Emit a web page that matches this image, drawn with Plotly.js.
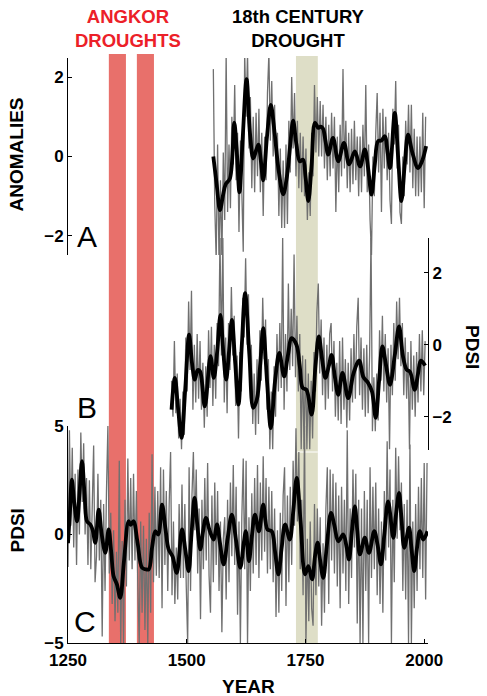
<!DOCTYPE html>
<html><head><meta charset="utf-8">
<script src="https://cdn.plot.ly/plotly-3.0.1.min.js"></script>
<style>html,body{margin:0;padding:0;background:#fff}#chart{width:487px;height:696px}</style>
</head><body><div id="chart"></div>
<script>
// ---------- DATA ----------
const xTicks = [1250, 1500, 1750, 2000];
const droughtAngkor = [[1336, 1372], [1395, 1431]];
const drought18th = [1730, 1776];

// Panel A: anomalies (annual, every 3rd year shown) + smoothed
const grayA_start = 1556;
const grayA = [
 2.2,-1.2,-2.6,0.3,-2.7,-0.6,-2.6,0.1,-1.6,2.6,
 -1.4,0.3,-1.3,1.0,-0.2,1.8,-0.6,0.6,-1.9,0.4,
 -0.9,-2.4,2.6,1.0,2.6,0.2,1.5,-0.8,1.0,-0.9,
 1.1,-0.5,1.2,-0.9,0.6,-1.5,0.5,-0.6,1.6,2.6,
 0.4,1.9,0.0,1.3,-0.6,0.6,-1.5,0.2,-1.8,-0.1,
 -1.8,0.3,-1.7,0.9,-0.4,2.0,0.2,1.6,-0.5,0.9,
 -0.8,0.6,-0.9,0.5,-1.0,0.2,-1.6,-0.4,-1.5,0.6,
 -0.5,1.8,0.1,1.5,0.0,1.4,0.0,1.3,-0.3,1.0,
 -0.6,0.8,-0.5,1.1,-0.3,1.0,-1.4,0.5,-0.9,0.8,
 -0.5,2.2,-0.3,0.9,-0.8,0.6,-0.9,0.7,-0.7,0.9,
 -0.6,0.5,-1.0,0.5,-0.9,0.8,-0.5,1.8,-0.9,0.3,
 -1.6,-2.5,0.0,-1.0,0.6,1.6,-0.4,1.1,-1.4,1.2,
 -0.3,1.0,-0.6,0.6,-1.1,-1.7,1.2,0.3,1.9,-0.3,
 0.8,-1.4,-1.7,0.0,-1.0,0.9,-0.2,1.3,-0.4,1.3,
 -0.8,0.7,-1.0,0.5,-1.0,0.5,-0.9,1.1,-1.3,1.0
];
const smoothA_years = [1556,1563,1570,1576,1582,1591,1600,1605,1611,1618,1626,1633,1640,1646,1651,1656,1661,1669,1677,1685,1693,1703,1711,1718,1724,1731,1738,1745,1750,1756,1763,1770,1777,1782,1787,1792,1798,1808,1819,1831,1842,1854,1865,1875,1882,1889,1896,1903,1910,1917,1923,1928,1938,1945,1952,1959,1966,1975,1987,1996,2004];
const smoothA = [0.0,-0.7,-1.35,-1.0,-0.7,-0.55,0.85,0.2,-0.9,0.5,1.95,0.6,-0.05,0.15,0.3,-0.1,-0.6,0.5,1.3,0.6,-0.3,-0.95,-0.5,0.3,0.9,0.3,-0.12,-0.08,-0.5,-1.12,-0.2,0.85,0.72,0.75,0.7,0.4,0.05,0.47,-0.12,0.34,-0.2,0.13,-0.25,0.18,-0.3,-0.96,-0.2,0.39,0.4,0.51,0.1,-0.29,1.1,0.0,-1.12,-0.2,0.55,0.1,-0.29,-0.1,0.26];

// Panel B: PDSI (right axis)
const grayB_start = 1468;
const grayB = [
 -1.0,-2.0,0.1,-1.9,-0.8,-2.6,-1.5,-2.9,-1.3,-2.5,
 0.2,-1.3,1.2,-0.7,1.5,-1.8,0.0,-1.6,0.3,-1.5,
 0.1,-1.8,-0.5,-2.3,-0.6,-2.0,0.4,-1.2,0.5,-1.7,
 0.0,-1.5,0.6,-0.6,3.0,-0.3,3.0,-1.6,0.2,-1.9,
 0.6,-0.7,1.6,-0.3,0.8,-1.7,-0.3,-2.6,-0.2,-1.3,
 1.3,0.2,2.4,0.0,1.4,-1.2,0.0,-2.2,-0.8,-2.5,
 -0.4,-2.2,0.4,-1.0,1.3,-0.4,0.7,-1.8,-0.4,-2.9,
 -1.3,-2.9,-0.6,-2.0,0.3,-1.3,0.6,-1.2,3.0,-1.8,
 0.3,-1.3,1.7,-0.7,1.0,-0.6,2.5,-0.9,0.8,-1.3,
 0.3,-2.9,-0.3,-2.9,-0.4,-2.9,-0.8,-2.9,-1.0,-2.6,
 -0.2,-1.3,0.9,1.7,-0.8,0.7,-1.4,0.2,-1.8,0.0,
 -1.5,0.3,0.6,-1.3,0.1,-2.0,-0.5,-2.1,0.1,-2.2,
 0.2,-1.8,-0.4,-2.3,-0.5,-2.1,-0.1,-1.6,0.3,-1.5,
 0.5,1.3,-1.4,0.2,-1.8,-0.1,-2.0,0.0,-1.9,-0.3,
 3.0,-2.4,-0.9,-2.4,-0.8,-2.1,0.4,-1.0,0.8,-1.3,
 0.3,-1.6,-0.1,-2.9,0.0,-1.4,0.6,-1.0,1.2,-0.4,
 1.3,-0.6,0.6,-1.4,0.2,-1.5,-0.2,-2.9,0.1,-1.8,
 -0.3,-2.0,-0.2,-1.6,0.3,-1.3,0.4,-1.4,0.1
];
const smoothB_years = [1468,1475,1482,1489,1497,1505,1511,1517,1523,1528,1538,1550,1557,1564,1571,1577,1583,1589,1595,1602,1609,1616,1623,1632,1640,1648,1655,1661,1669,1677,1686,1695,1705,1713,1721,1731,1738,1744,1752,1763,1771,1778,1785,1792,1799,1805,1812,1819,1828,1840,1851,1863,1872,1882,1890,1898,1905,1912,1920,1928,1938,1947,1955,1963,1970,1980,1987,1993,2002];
const smoothB = [-1.8,-0.92,-1.8,-2.58,-1.2,0.28,-0.5,-0.97,-0.7,-0.74,-1.71,-0.32,-0.92,-0.2,0.83,-0.2,-0.97,-0.2,0.69,-0.5,-1.66,0.0,1.43,-0.3,-1.75,-1.5,-0.5,0.46,-1.0,-2.31,-1.0,-0.23,-0.88,-0.3,0.18,0.0,-0.6,-1.2,-1.25,-1.94,-0.6,0.23,-0.4,-0.92,-0.6,-0.28,-0.9,-1.39,-0.78,-1.48,-0.8,-0.44,-0.9,-1.06,-1.3,-2.03,-1.0,-0.05,-0.6,-1.11,-0.3,0.51,-0.3,-0.69,-0.75,-1.25,-0.8,-0.44,-0.58];

// Panel C: PDSI (left axis)
const grayC_start = 1250;
const grayC = [
 -1.5,4.8,0.4,4.0,-0.6,2.8,-1.4,3.0,0.0,4.7,
 1.5,4.2,0.0,2.6,-1.4,2.5,-1.6,1.8,4.1,-2.2,
 -1.0,2.8,-1.2,1.6,-4.7,1.4,-2.6,2.0,5.0,-1.8,
 1.0,-3.2,0.2,-4.0,-0.8,-3.6,3.4,-5.0,-0.3,-5.0,
 1.6,-2.4,3.5,-1.2,2.6,-1.6,2.8,-1.2,2.0,-2.4,
 -5.0,0.6,-3.6,0.4,-4.4,-0.2,-5.0,1.0,-3.6,3.7,
 -2.2,2.2,-1.9,2.0,-2.0,3.1,-3.4,3.0,-1.4,2.0,
 -2.6,1.4,3.8,-2.8,0.6,-3.2,-0.6,-3.0,1.4,-2.0,
 2.3,-2.0,1.4,-2.4,-5.0,3.1,-2.6,1.8,3.8,0.2,
 3.0,-1.8,1.2,-3.9,1.6,-1.6,2.6,-1.2,3.3,-1.9,
 -3.6,1.8,-2.2,2.4,-1.4,2.0,-2.6,0.6,-4.5,-0.2,
 0.8,-3.0,1.6,-2.2,2.4,-1.0,3.2,-1.4,2.2,-3.7,
 0.6,-5.0,0.8,3.5,-1.6,3.4,-5.0,0.8,-2.6,1.9,
 -1.8,2.6,-1.4,3.2,-2.0,2.4,-1.2,3.6,-0.8,2.6,
 -1.8,2.2,-1.6,2.0,-2.2,1.2,-3.8,0.2,-3.6,1.0,
 -2.6,1.8,3.1,-3.3,1.8,-2.2,2.2,-1.4,3.4,0.4,
 4.9,0.6,3.8,-1.6,1.6,-2.8,5.0,-5.0,-0.2,-4.0,
 0.6,-3.4,-4.2,1.4,-2.8,1.2,-2.4,0.8,-4.2,-0.4,
 -3.6,1.2,3.1,-3.2,3.0,-1.2,2.8,-1.8,2.4,-2.4,
 1.8,-3.4,2.2,-1.8,1.6,-2.6,4.8,-3.2,1.2,-2.0,
 3.0,-0.6,2.8,-4.1,1.6,-5.0,1.2,-5.0,2.0,-2.6,
 1.6,-5.0,3.1,-2.0,2.2,-1.6,2.4,-2.8,1.2,-3.2,
 0.6,-3.6,2.0,-1.2,4.3,-0.6,3.0,-5.0,1.6,-2.2,
 4.0,-0.2,3.6,0.2,2.4,-2.6,1.4,-3.0,1.6,-5.0,
 4.15,-5.0,0.6,-3.4,1.4,-2.6,2.2,-1.6,2.6,-2.0,
 3.3,-3.0,3.3
];
const smoothC_years = [1250,1254,1258,1263,1269,1274,1279.5,1285,1290,1297,1302,1307.5,1314.6,1321,1328.6,1335.6,1341,1346,1353,1360,1368,1377.6,1382,1388,1396,1405.8,1413,1420,1427,1433.8,1440,1448,1455,1462,1470,1479,1490,1497,1504,1510,1516.6,1522,1528.6,1534,1540.5,1548,1556.7,1563.7,1570,1577.7,1586,1595,1604,1612.8,1620,1624.5,1631,1637,1643.7,1652,1661,1670,1679,1686,1693,1700,1707,1717,1724,1731.5,1740,1749,1756,1764,1770,1775.6,1781,1787.5,1795,1803.7,1811,1819,1829.6,1836,1841.6,1848,1854,1859,1864.7,1875,1883.7,1894.8,1902,1909,1916,1924,1935,1940,1947,1952,1958,1968,1973,1979,1985,1991,1998,2007];
const smoothC = [-0.4,1.0,2.53,1.5,0.61,1.8,3.38,1.8,0.61,0.46,0.2,-0.38,1.15,0.0,-0.84,0.23,-0.8,-1.92,-2.3,-2.92,-1.2,0.61,0.45,0.61,-0.3,-1.53,-1.6,-1.61,-0.6,0.15,0.0,1.38,0.3,-0.69,-1.0,-1.77,0.23,-0.7,-1.69,0.0,1.69,0.5,-0.69,0.1,0.77,0.2,-0.23,0.46,-0.4,-1.38,-0.2,0.92,-0.3,-1.53,-0.4,0.15,-1.23,-0.1,0.92,0.15,1.38,0.23,0.15,-0.8,-1.84,-0.6,0.46,-0.23,1.0,2.61,0.5,-1.84,-1.46,-2.07,-1.0,-0.38,-1.2,-2.0,-0.5,1.0,0.4,-0.31,0.0,-0.5,-1.15,0.2,1.3,0.2,-0.92,-0.15,-0.84,0.15,-0.5,-1.38,0.0,1.53,-0.15,0.8,1.92,0.8,-0.61,0.31,-0.6,-1.69,-0.6,0.15,-0.23,0.15];

// ---------- BUILD ----------
function yearsFrom(start, n) { const a = []; for (let i = 0; i < n; i++) a.push(start + 3 * i); return a; }
const W = 487, H = 696;
const px = v => v / W, py = v => 1 - v / H;
const GRAY = 'rgb(112,112,112)';
const FONT = '"Liberation Sans", Arial, Helvetica, sans-serif';
const grayLine = {color: GRAY, width: 1.3};
const blackLine = {color: '#000', width: 3.8, shape: 'spline', smoothing: 1};

const traces = [
  {x: yearsFrom(grayC_start, grayC.length), y: grayC, xaxis: 'x', yaxis: 'y', mode: 'lines', line: grayLine},
  {x: smoothC_years, y: smoothC, xaxis: 'x', yaxis: 'y', mode: 'lines', line: blackLine},
  {x: yearsFrom(grayB_start, grayB.length), y: grayB, xaxis: 'x', yaxis: 'y2', mode: 'lines', line: grayLine},
  {x: smoothB_years, y: smoothB, xaxis: 'x', yaxis: 'y2', mode: 'lines', line: blackLine},
  {x: yearsFrom(grayA_start, grayA.length), y: grayA, xaxis: 'x', yaxis: 'y3', mode: 'lines', line: grayLine},
  {x: smoothA_years, y: smoothA, xaxis: 'x', yaxis: 'y3', mode: 'lines', line: blackLine}
];

const tickFont = {family: FONT, size: 17, color: '#000', weight: 'bold'};
const axisCommon = {showline: true, linecolor: '#000', linewidth: 1, ticks: 'inside', ticklen: 4, tickcolor: '#000',
  showgrid: false, zeroline: false, tickfont: tickFont, fixedrange: true};

const shapes = [];
droughtAngkor.forEach(b => shapes.push({type: 'rect', layer: 'below', xref: 'x', yref: 'paper', x0: b[0], x1: b[1],
  y0: py(643), y1: py(54), fillcolor: 'rgb(232,112,107)', line: {width: 0}}));
shapes.push({type: 'rect', layer: 'below', xref: 'x', yref: 'paper', x0: drought18th[0], x1: drought18th[1],
  y0: py(643), y1: py(56), fillcolor: 'rgb(222,222,199)', line: {width: 0}});
// thin white seam across the khaki band where panels B and C meet
shapes.push({type: 'line', layer: 'below', xref: 'x', yref: 'paper', x0: drought18th[0], x1: drought18th[1],
  y0: py(452), y1: py(452), line: {color: '#fff', width: 1}});

function ann(text, x, y, opts) {
  return Object.assign({text: text, xref: 'paper', yref: 'paper', x: px(x), y: py(y), xanchor: 'center', yanchor: 'middle',
    showarrow: false, font: {family: FONT, size: 19, color: '#000', weight: 'bold'}}, opts || {});
}
const annotations = [
  ann('ANGKOR<br>DROUGHTS', 128, 29, {font: {family: FONT, size: 18.5, color: 'rgb(236,32,40)', weight: 'bold'}}),
  ann('18th CENTURY<br>DROUGHT', 298, 29, {font: {family: FONT, size: 18.5, color: '#000', weight: 'bold'}}),
  ann('ANOMALIES', 16.5, 155, {textangle: -90}),
  ann('PDSI', 16.5, 531, {textangle: -90}),
  ann('PDSI', 473, 347, {textangle: 90}),
  ann('YEAR', 248, 686),
  ann('A', 87, 237, {font: {family: FONT, size: 30, color: '#000'}}),
  ann('B', 87, 408, {font: {family: FONT, size: 30, color: '#000'}}),
  ann('C', 85, 621, {font: {family: FONT, size: 30, color: '#000'}})
];

const layout = {
  width: W, height: H, margin: {l: 0, r: 0, t: 0, b: 0}, paper_bgcolor: '#fff', plot_bgcolor: 'rgba(0,0,0,0)',
  showlegend: false, font: {family: FONT},
  xaxis: Object.assign({}, axisCommon, {domain: [px(68), px(428)], range: [1250, 2008], anchor: 'y', tickvals: xTicks, ticklabelstandoff: 2}),
  yaxis: Object.assign({}, axisCommon, {domain: [py(643), py(426)], range: [-5, 5], anchor: 'x', side: 'left', tickvals: [-5, 0, 5]}),
  yaxis2: Object.assign({}, axisCommon, {domain: [py(450), py(238)], range: [-2.92, 2.96], anchor: 'x', side: 'right', tickvals: [-2, 0, 2]}),
  yaxis3: Object.assign({}, axisCommon, {domain: [py(255), py(58)], range: [-2.48, 2.48], anchor: 'x', side: 'left', tickvals: [-2, 0, 2]}),
  shapes: shapes,
  annotations: annotations
};
Plotly.newPlot('chart', traces, layout, {staticPlot: true, displayModeBar: false});
</script></body></html>
